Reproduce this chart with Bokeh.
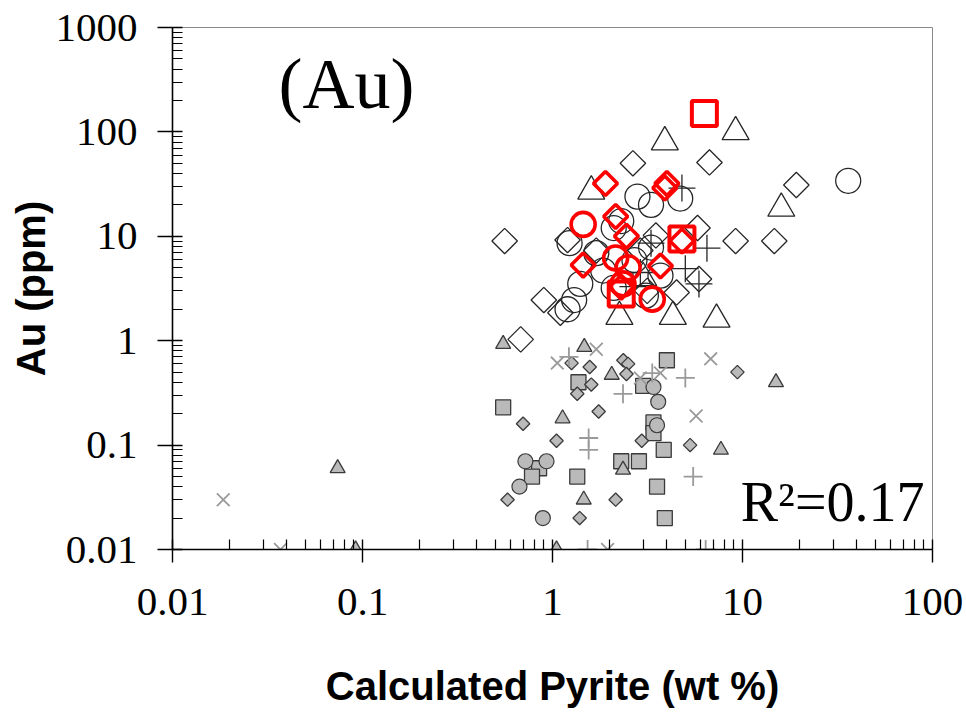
import math
from bokeh.plotting import figure
from bokeh.models import Range1d, FixedTicker, CustomJSTickFormatter, Label
from bokeh.embed import file_html
from bokeh.resources import INLINE

# ---------------- data (Calculated pyrite wt% , Au ppm) ----------------
# open black diamonds
dia_x = [0.56, 0.68, 0.9, 1.1, 1.2, 2.65, 6.7, 9.2, 14.7, 19.2, 5.8, 5.9, 3.15, 4.5, 2.9, 1.7, 3.5]
dia_y = [9.0, 1.03, 2.45, 1.85, 9.2, 50, 51, 9.0, 9.0, 31, 12, 3.9, 3.0, 2.9, 7.3, 7.3, 10.2]
# open black circles
cir_x = [36, 1.23, 1.4, 1.2, 2.8, 4.7, 2.3, 1.7, 3.3, 2.7, 2.1, 3.1, 3.7, 1.85, 3.3, 1.3, 2.1]
cir_y = [34, 8.6, 3.5, 2.0, 24, 23, 14, 6.9, 7.8, 5.9, 3.2, 2.7, 4.2, 4.7, 20, 2.45, 12]
# open black triangles
tri_x = [3.9, 9.2, 1.6, 2.25, 4.3, 7.3, 16, 3.0]
tri_y = [80, 100, 27, 1.7, 1.7, 1.6, 18.5, 4.0]
# black plus
plus_x = [4.8, 3.3, 6.5, 5.0, 5.9, 2.65, 2.9]
plus_y = [29, 8.6, 7.7, 4.9, 3.5, 3.3, 4.5]
# red open squares
rsq_x = [6.3, 4.8, 2.3]
rsq_y = [150, 9.4, 2.8]
# red open diamonds
rdia_x = [1.9, 4.0, 3.9, 2.15, 2.45, 1.45, 3.7, 4.8, 2.3]
rdia_y = [32, 32, 29, 15.5, 10, 5.3, 5.2, 9.0, 3.25]
# red open circles
rcir_x = [1.45, 2.15, 3.35, 2.35, 2.5]
rcir_y = [13, 6.2, 2.5, 3.5, 5.0]
# grey filled diamonds
gdia_x = [1.26, 1.57, 2.36, 2.5, 2.45, 1.6, 1.35, 1.75, 0.7, 1.05, 2.95, 5.3, 9.4, 0.58, 2.15, 1.39]
gdia_y = [0.61, 0.56, 0.65, 0.6, 0.48, 0.38, 0.31, 0.21, 0.16, 0.11, 0.11, 0.1, 0.5, 0.03, 0.03, 0.02]
# grey filled circles
gcir_x = [0.72, 0.93, 0.67, 0.89, 3.6, 3.4, 3.55]
gcir_y = [0.07, 0.07, 0.04, 0.02, 0.26, 0.36, 0.155]
# grey filled squares
gsq_x = [0.55, 1.37, 4.0, 3.0, 3.4, 3.4, 3.85, 0.85, 0.78, 1.35, 2.3, 2.85, 3.55, 3.9]
gsq_y = [0.23, 0.4, 0.65, 0.37, 0.165, 0.13, 0.09, 0.06, 0.05, 0.05, 0.07, 0.07, 0.04, 0.02]
# grey filled triangles
gtri_x = [0.074, 0.092, 0.55, 1.47, 2.05, 1.13, 1.46, 7.7, 15, 1.05, 2.35]
gtri_y = [0.06, 0.01, 0.93, 0.87, 0.47, 0.18, 0.03, 0.09, 0.4, 0.01, 0.058]
# grey x
gx_x = [1.06, 1.7, 6.8, 5.7, 3.7, 2.9, 1.95, 0.037, 0.0185]
gx_y = [0.61, 0.83, 0.67, 0.19, 0.49, 0.44, 0.01, 0.01, 0.03]
# grey plus
gp_x = [1.22, 2.35, 5.0, 3.35, 1.55, 1.55, 5.5, 1.53, 6.4]
gp_y = [0.7, 0.31, 0.44, 0.49, 0.117, 0.09, 0.05, 0.01, 0.01]

x_ticks = [0.01, 0.1, 1, 10, 100]
y_ticks = [0.01, 0.1, 1, 10, 100, 1000]
panel_label = "(Au)"
r2_label = "R\u00b2=0.17"
x_title = "Calculated Pyrite (wt %)"
y_title = "Au (ppm)"

# ---------------- figure ----------------
p = figure(width=966, height=713, x_axis_type="log", y_axis_type="log",
           x_range=Range1d(0.01, 100), y_range=Range1d(0.01, 1000),
           output_backend="svg", toolbar_location=None,
           min_border_left=172, min_border_right=34, min_border_top=27,
           min_border_bottom=164)
p.grid.visible = False
p.outline_line_color = "#8a8a8a"
p.outline_line_width = 1
p.background_fill_color = "white"
p.border_fill_color = "white"

def minors(lo, hi):
    return [m * 10.0 ** k for k in range(lo, hi) for m in range(2, 10)]

p.xaxis.ticker = FixedTicker(ticks=x_ticks, minor_ticks=minors(-2, 2))
p.yaxis.ticker = FixedTicker(ticks=y_ticks, minor_ticks=minors(-2, 3))
p.xaxis.formatter = CustomJSTickFormatter(code="return String(Number(tick.toPrecision(6)));")
p.yaxis.formatter = CustomJSTickFormatter(code="return String(Number(tick.toPrecision(6)));")

for ax in (p.xaxis[0], p.yaxis[0]):
    ax.axis_line_color = "black"
    ax.axis_line_width = 1.6
    ax.major_tick_line_color = "black"
    ax.minor_tick_line_color = "black"
    ax.major_tick_line_width = 1.4
    ax.minor_tick_line_width = 1.2
    ax.major_tick_in = 10
    ax.minor_tick_in = 10
    ax.minor_tick_out = 0
    ax.major_label_text_font = "Liberation Serif"
    ax.major_label_text_font_size = "41px"
    ax.major_label_text_color = "black"
    ax.axis_label_text_font = "Liberation Sans"
    ax.axis_label_text_font_style = "bold"
    ax.axis_label_text_font_size = "40px"
    ax.axis_label_text_color = "black"

p.xaxis.major_tick_out = 13
p.yaxis.major_tick_out = 15
p.xaxis.major_label_standoff = 26
p.yaxis.major_label_standoff = 20
p.xaxis.axis_label = x_title
p.yaxis.axis_label = y_title
p.xaxis.axis_label_standoff = 46
p.yaxis.axis_label_standoff = 0

# ---------------- markers ----------------
G_FILL = "#bababa"
G_LINE = "#3a3a3a"
G_LIGHT = "#9a9a9a"
BLK = "#262626"
RED = "#ff0000"
Q = math.pi / 4

# low-Au grey group
p.scatter(gsq_x, gsq_y, marker="square", size=15, fill_color=G_FILL, line_color=G_LINE, line_width=1.3)
p.scatter(gdia_x, gdia_y, marker="square", angle=Q, size=9.5, fill_color=G_FILL, line_color=G_LINE, line_width=1.3)
p.scatter(gcir_x, gcir_y, marker="circle", size=15, fill_color=G_FILL, line_color=G_LINE, line_width=1.2)
p.scatter(gtri_x, gtri_y, marker="triangle", size=15, fill_color=G_FILL, line_color=G_LINE, line_width=1.3)
p.scatter(gx_x, gx_y, marker="x", size=18, line_color=G_LIGHT, line_width=1.8)
p.scatter(gp_x, gp_y, marker="cross", size=19, line_color=G_LIGHT, line_width=1.8)

# high-Au open black group
p.scatter(dia_x, dia_y, marker="square", angle=Q, size=18, fill_color=None, line_color=BLK, line_width=1.3)
p.scatter(cir_x, cir_y, marker="circle", size=25, fill_color=None, line_color=BLK, line_width=1.3)
p.scatter(tri_x, tri_y, marker="triangle", size=27, fill_color=None, line_color=BLK, line_width=1.3)
p.scatter(plus_x, plus_y, marker="cross", size=27, line_color=BLK, line_width=1.3)

# red group
p.scatter(rsq_x, rsq_y, marker="square", size=25, fill_color=None, line_color=RED, line_width=4)
p.scatter(rdia_x, rdia_y, marker="square", angle=Q, size=17, fill_color=None, line_color=RED, line_width=3.6)
p.scatter(rcir_x, rcir_y, marker="circle", size=24, fill_color=None, line_color=RED, line_width=3.6)

# ---------------- annotations ----------------
p.add_layout(Label(x=0.0824, y=290, text=panel_label, text_align="center",
                   text_baseline="middle", text_font="Liberation Serif",
                   text_font_size="72px", text_color="black"))
p.add_layout(Label(x=29.8, y=0.0285, text=r2_label, text_align="center",
                   text_baseline="alphabetic", text_font="Liberation Serif",
                   text_font_size="56px", text_color="black"))

open("out.html", "w").write(file_html(p, INLINE))
